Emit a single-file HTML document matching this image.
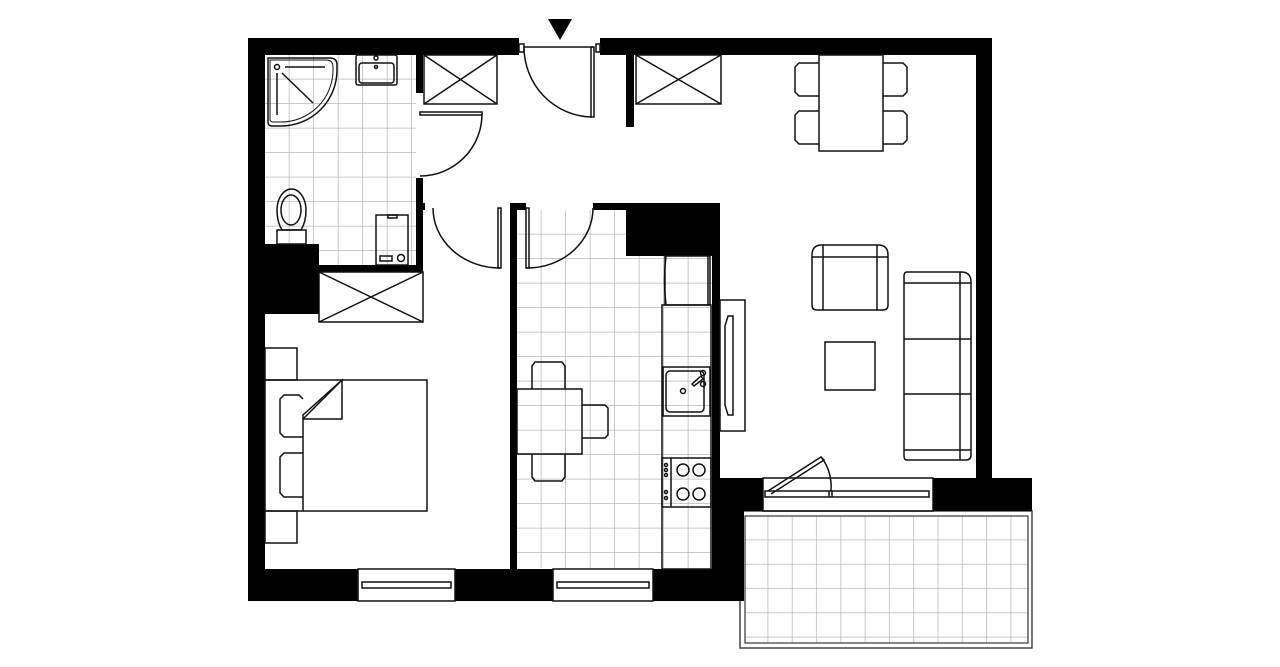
<!DOCTYPE html>
<html><head><meta charset="utf-8"><style>
html,body{margin:0;padding:0;background:#fff;}
svg{display:block;}
</style></head><body>
<svg width="1280" height="667" viewBox="0 0 1280 667" xmlns="http://www.w3.org/2000/svg">
<defs>
<pattern id="tile" x="265" y="55" width="24.5" height="24.5" patternUnits="userSpaceOnUse">
<path d="M24.5 0V24.5M0 24.5H24.5" stroke="#b8b8b8" stroke-width="1.5" fill="none"/>
</pattern>
<pattern id="tileK" x="517" y="210" width="24.5" height="24.5" patternUnits="userSpaceOnUse">
<path d="M24.5 0V24.5M0 24.5H24.5" stroke="#b8b8b8" stroke-width="1.5" fill="none"/>
</pattern>
<pattern id="tileB" x="744" y="516" width="24.3" height="24.3" patternUnits="userSpaceOnUse">
<path d="M24.3 0V24.3M0 24.3H24.3" stroke="#b8b8b8" stroke-width="1.5" fill="none"/>
</pattern>
</defs>
<rect x="265" y="55" width="151" height="210" fill="url(#tile)"/>
<rect x="517" y="210" width="195" height="358" fill="url(#tileK)"/>
<rect x="740" y="511" width="292" height="137" fill="none" stroke="#444" stroke-width="1.5"/>
<rect x="745" y="516" width="283" height="127" fill="url(#tileB)" stroke="#444" stroke-width="1.3"/>

<g fill="#000">
<rect x="248" y="38" width="271" height="17"/>
<rect x="600" y="38" width="392" height="17"/>
<rect x="248" y="38" width="17" height="563"/>
<rect x="976" y="38" width="16" height="442"/>
<rect x="933" y="478" width="99" height="33"/>
<rect x="248" y="569" width="110" height="32"/>
<rect x="455" y="569" width="98" height="32"/>
<rect x="653" y="569" width="91" height="32"/>
<rect x="712" y="478" width="32" height="123"/>
<rect x="720" y="478" width="43" height="33"/>
<rect x="712" y="203" width="8" height="366"/>
<rect x="626" y="203" width="94" height="53"/>
<rect x="593" y="203" width="33" height="7"/>
<rect x="510" y="203" width="16" height="7"/>
<rect x="510" y="203" width="7" height="366"/>
<rect x="416" y="203" width="9" height="7"/>
<rect x="416" y="55" width="7" height="38"/>
<rect x="416" y="178" width="7" height="94"/>
<rect x="265" y="265" width="158" height="7"/>
<rect x="248" y="244" width="71" height="70"/>
<rect x="626" y="55" width="8" height="72"/>
<polygon points="548,19 572,19 560,40"/>
</g>

<g fill="none" stroke="#111" stroke-width="1.5">
<rect x="424" y="55" width="73" height="49"/><path d="M424 55L497 104M497 55L424 104"/>
<rect x="636" y="55" width="85" height="49"/><path d="M636 55L721 104M721 55L636 104"/>
<rect x="319" y="272" width="104" height="50"/><path d="M319 272L423 322M423 272L319 322"/>
<rect x="519" y="44" width="5" height="8"/><rect x="596" y="44" width="4" height="8"/>
<path d="M524 47H593"/>
<rect x="591" y="47" width="3" height="70"/>
<path d="M524 47A69 70 0 0 0 592 117"/>
<rect x="420" y="112" width="62" height="3"/>
<path d="M482 114A62 62 0 0 1 420 176"/>
<rect x="498" y="208" width="3" height="60"/>
<path d="M433 208A67 60 0 0 0 500 268"/>
<rect x="526" y="208" width="3" height="60"/>
<path d="M593 208A66 60 0 0 1 527 268"/>
<path d="M268 58H330Q337 58 337 65V70A56 56 0 0 1 281 126H272Q268 126 268 122Z"/>
<path d="M270 60H326Q333 60 333 67V70A52 52 0 0 1 281 122H273Q270 122 270 119Z" stroke-width="1"/>
<circle cx="277" cy="67" r="2.5"/><path d="M285 67H325M277 73V115M282 73L313 103"/>
<rect x="356" y="55" width="41" height="30" rx="2"/><rect x="359" y="63" width="35" height="20" rx="3"/>
<circle cx="376" cy="58" r="2"/><circle cx="376" cy="67" r="1.5"/>
<rect x="277" y="230" width="29" height="14"/>
<path d="M282 230Q277 222 277 210A14.5 21 0 0 1 306 210Q306 222 301 230Z"/>
<ellipse cx="291" cy="210" rx="10" ry="15"/>
<rect x="376" y="215" width="32" height="50"/><rect x="388" y="215" width="9" height="3"/>
<rect x="380" y="256" width="12" height="5"/><circle cx="401" cy="258" r="3.5"/>
<rect x="358" y="569" width="97" height="32"/><rect x="362" y="582" width="89" height="6"/>
<rect x="553" y="569" width="100" height="32"/><rect x="557" y="582" width="92" height="6"/>
<rect x="265" y="348" width="32" height="32"/><rect x="265" y="511" width="32" height="32"/>
<rect x="265" y="380" width="162" height="131"/>
<path d="M303 511V419L342 380V419H303"/>
<path d="M303 419V415L342 380"/>
<path d="M303 453H284L280 457V493L284 497H303"/>
<path d="M303 437H284L280 433V399L284 395H299L303 399"/>
<rect x="517" y="389" width="65" height="65"/>
<path d="M532 389V366L535 362H562L565 366V389"/>
<path d="M532 454V477L535 481H562L565 477V454"/>
<path d="M582 405H605L608 408V435L605 438H582"/>
<rect x="665" y="256" width="45" height="49"/><path d="M666 256Q663 280 666 305M708 256V305"/>
<rect x="662" y="305" width="49" height="264"/>
<rect x="663" y="367" width="47" height="49"/><rect x="666" y="371" width="38" height="41" rx="4"/>
<circle cx="683" cy="391" r="2.5"/><circle cx="703" cy="373" r="2.5"/><circle cx="703" cy="384" r="2.5"/>
<path d="M692 384L701 376L703 379L694 386Z"/>
<rect x="662" y="458" width="49" height="49"/><path d="M671 458V507"/>
<circle cx="666" cy="465" r="1.5"/><circle cx="666" cy="470" r="1.5"/><circle cx="666" cy="475" r="1.5"/><circle cx="666" cy="492" r="1.5"/><circle cx="666" cy="498" r="1.5"/>
<circle cx="683" cy="470" r="6"/><circle cx="699" cy="470" r="6"/><circle cx="683" cy="494" r="6"/><circle cx="699" cy="494" r="6"/>
<rect x="720" y="300" width="25" height="131"/>
<path d="M728 316H733V415H728L725 405V326Z"/>
<rect x="819" y="55" width="64" height="96"/>
<path d="M819 63H799L795 67V92L799 96H819M819 111H799L795 115V140L799 144H819"/>
<path d="M883 63H903L907 67V92L903 96H883M883 111H903L907 115V140L903 144H883"/>
<path d="M812 255Q812 245 822 245H878Q888 245 888 255V305Q888 310 883 310H817Q812 310 812 305Z"/>
<path d="M812 257H888M823 245V310M877 245V310"/>
<rect x="825" y="342" width="50" height="48"/>
<path d="M907 272H961Q971 272 971 282V455Q971 460 966 460H907Q904 460 904 456V276Q904 272 907 272Z"/>
<path d="M904 283H971M904 450H971M960 272V460M904 339H971M904 394H971"/>
<rect x="763" y="478" width="170" height="33"/>
<rect x="765" y="491" width="164" height="6"/><path d="M829 491V497M832 491V497"/>
<path d="M768 491L821 457L824 460L771 494"/>
<path d="M821 457A30 40 0 0 1 831 491"/>
</g>
</svg>
</body></html>
